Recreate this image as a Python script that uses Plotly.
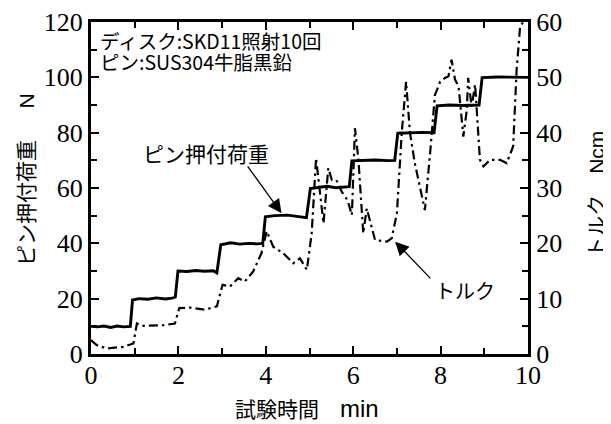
import plotly.graph_objects as go

# ---- data ----
time_load = [0, 0.15, 0.3, 0.45, 0.6, 0.75, 0.9, 0.95, 1.1, 1.3, 1.5, 1.7, 1.85, 1.93, 1.99, 2.2, 2.4, 2.6, 2.8, 2.88, 2.97,
             3.2, 3.4, 3.6, 3.8, 3.93, 3.99, 4.2, 4.5, 4.8, 4.93, 5.02, 5.2, 5.4, 5.6, 5.8, 5.91, 5.97, 6.2, 6.5, 6.8, 6.95,
             7.02, 7.3, 7.6, 7.85, 7.92, 8.2, 8.5, 8.88, 8.95, 9.3, 9.6, 10]
load_N = [10, 9.8, 10.1, 9.6, 10.1, 9.8, 10, 19.5, 20, 19.8, 20.3, 19.9, 20.2, 20.6, 30, 29.8, 30.2, 29.9, 30.1, 29.3, 39.5,
          40.2, 39.7, 40, 39.8, 40, 49.6, 50, 50.2, 49.7, 49.3, 59.8, 60.2, 60.6, 60.1, 60.3, 60.5, 69.8, 70, 70.1, 69.9, 70,
          79.8, 80, 80.1, 80, 89.7, 90, 89.8, 90, 99.9, 100.1, 100, 100]

time_torque = [0, 0.13, 0.36, 0.74, 0.97, 1.05, 1.2, 1.65, 1.92, 2.02, 2.27, 2.6, 2.88, 3.01, 3.18, 3.37, 3.52, 3.71, 3.9,
               4.02, 4.17, 4.4, 4.63, 4.78, 4.94, 5.05, 5.15, 5.22, 5.32, 5.43, 5.51, 5.61, 5.74, 5.87, 5.97, 6.04, 6.12,
               6.23, 6.31, 6.38, 6.5, 6.77, 6.88, 7.0, 7.11, 7.21, 7.3, 7.41, 7.57, 7.64, 7.76, 7.87, 7.99, 8.1, 8.18,
               8.25, 8.33, 8.41, 8.44, 8.52, 8.6, 8.63, 8.71, 8.79, 8.9, 8.98, 9.13, 9.36, 9.51, 9.66, 9.74, 9.82, 9.89]
torque_Ncm = [2.5, 1.6, 1.0, 1.3, 1.9, 5.5, 5.1, 5.2, 5.5, 8.3, 8.4, 8.0, 8.6, 12.5, 12.2, 13.7, 13.1, 14.9, 18.2,
              22.2, 19.4, 18.2, 16.4, 17.3, 15.2, 21.8, 35.4, 30.3, 23.6, 33.6, 31.5, 31.5, 29.3, 27.8, 25.1, 40.8, 35.1,
              21.8, 26.3, 24.2, 20.6, 20.3, 20.9, 25.4, 39.9, 49.2, 39.9, 34.5, 28.4, 26.0, 36.3, 46.8, 49.2, 49.9, 50.2,
              53.2, 49.6, 48.4, 46.0, 39.3, 44.1, 49.9, 44.7, 48.7, 35.1, 33.9, 35.1, 35.1, 34.5, 37.5, 51.4, 59.2, 60]

x_ticks = [0, 2, 4, 6, 8, 10]
y_left_ticks = [0, 20, 40, 60, 80, 100, 120]
y_right_ticks = [0, 10, 20, 30, 40, 50, 60]

LAT = "Liberation Sans"
x_title = "試験時間\u3000<span style='font-family:" + LAT + ";font-size:24px'>min</span>"
y_left_title = "ピン押付荷重\u3000\u2002<span style='font-family:" + LAT + "'>N</span>"
y_right_title = "トルク\u3000<span style='font-family:" + LAT + "'>Ncm</span>"
info_line1 = "ディスク:SKD11照射10回"
info_line2 = "ピン:SUS304牛脂黒鉛"
load_label = "ピン押付荷重"
torque_label = "トルク"

JP = "Noto Sans CJK JP"
SERIF = "Liberation Serif"
tick_font = dict(family=SERIF, size=26, color="black")

fig = go.Figure()
fig.add_trace(go.Scatter(x=time_load, y=load_N, mode="lines",
                         line=dict(color="black", width=2.9), yaxis="y", showlegend=False))
fig.add_trace(go.Scatter(x=time_torque, y=torque_Ncm, mode="lines",
                         line=dict(color="black", width=2.2, dash="9px,4px,2.5px,4px"), yaxis="y2",
                         showlegend=False))

axis_common = dict(showgrid=False, zeroline=False, showline=True, linewidth=3, linecolor="black",
                   ticks="inside", ticklen=8, tickwidth=2, tickcolor="black", tickfont=tick_font)

# the page body adds an 8px offset, so the figure is 8px smaller on each side
fig.update_layout(
    width=603, height=416,
    font=dict(family=SERIF, size=26, color="black"),
    margin=dict(l=83, r=83, t=14, b=70, autoexpand=False),
    plot_bgcolor="white", paper_bgcolor="white",
    xaxis=dict(range=[0, 10], tickvals=x_ticks, mirror="ticks", ticklabelstandoff=-4,
               minor=dict(ticks="inside", dtick=1, ticklen=6, tickwidth=1.5, tickcolor="black"),
               **axis_common),
    yaxis=dict(range=[0, 120], tickvals=y_left_ticks,
               minor=dict(ticks="inside", dtick=10, ticklen=6, tickwidth=1.5, tickcolor="black"),
               **axis_common),
    yaxis2=dict(range=[0, 60], tickvals=y_right_ticks, overlaying="y", side="right",
                minor=dict(ticks="inside", dtick=5, ticklen=6, tickwidth=1.5, tickcolor="black"),
                **axis_common),
)

annots = [
    dict(text=info_line1, xref="paper", yref="paper", x=0.016, y=0.943, xanchor="left", yanchor="middle",
         showarrow=False, font=dict(family=JP, size=19.5, color="black")),
    dict(text=info_line2, xref="paper", yref="paper", x=0.016, y=0.880, xanchor="left", yanchor="middle",
         showarrow=False, font=dict(family=JP, size=19.5, color="black")),
    dict(text=y_left_title, xref="paper", yref="paper", x=-0.151, y=0.524, textangle=-90,
         xanchor="center", yanchor="middle",
         showarrow=False, font=dict(family=JP, size=21, color="black")),
    dict(text=y_right_title, xref="paper", yref="paper", x=1.153, y=0.482, textangle=-90,
         xanchor="center", yanchor="middle",
         showarrow=False, font=dict(family=JP, size=21, color="black")),
    dict(text=x_title, xref="paper", yref="paper", x=0.495, y=-0.163,
         xanchor="center", yanchor="middle",
         showarrow=False, font=dict(family=JP, size=21, color="black")),
    dict(text=load_label, xref="x", yref="y", x=2.64, y=72.7, showarrow=False,
         font=dict(family=JP, size=21, color="black")),
    dict(text="", xref="x", yref="y", x=4.36, y=50.9, axref="x", ayref="y", ax=3.56, ay=68.4,
         showarrow=True, arrowhead=2, arrowsize=2.1, arrowwidth=1.3, arrowcolor="black"),
    dict(text=torque_label, xref="x", yref="y", x=8.56, y=23.1, showarrow=False,
         font=dict(family=JP, size=20, color="black")),
    dict(text="", xref="x", yref="y", x=6.96, y=40.6, axref="x", ayref="y", ax=7.8, ay=26.8,
         showarrow=True, arrowhead=2, arrowsize=2.1, arrowwidth=1.3, arrowcolor="black"),
]
fig.update_layout(annotations=annots)

fig.write_html("out.html")
